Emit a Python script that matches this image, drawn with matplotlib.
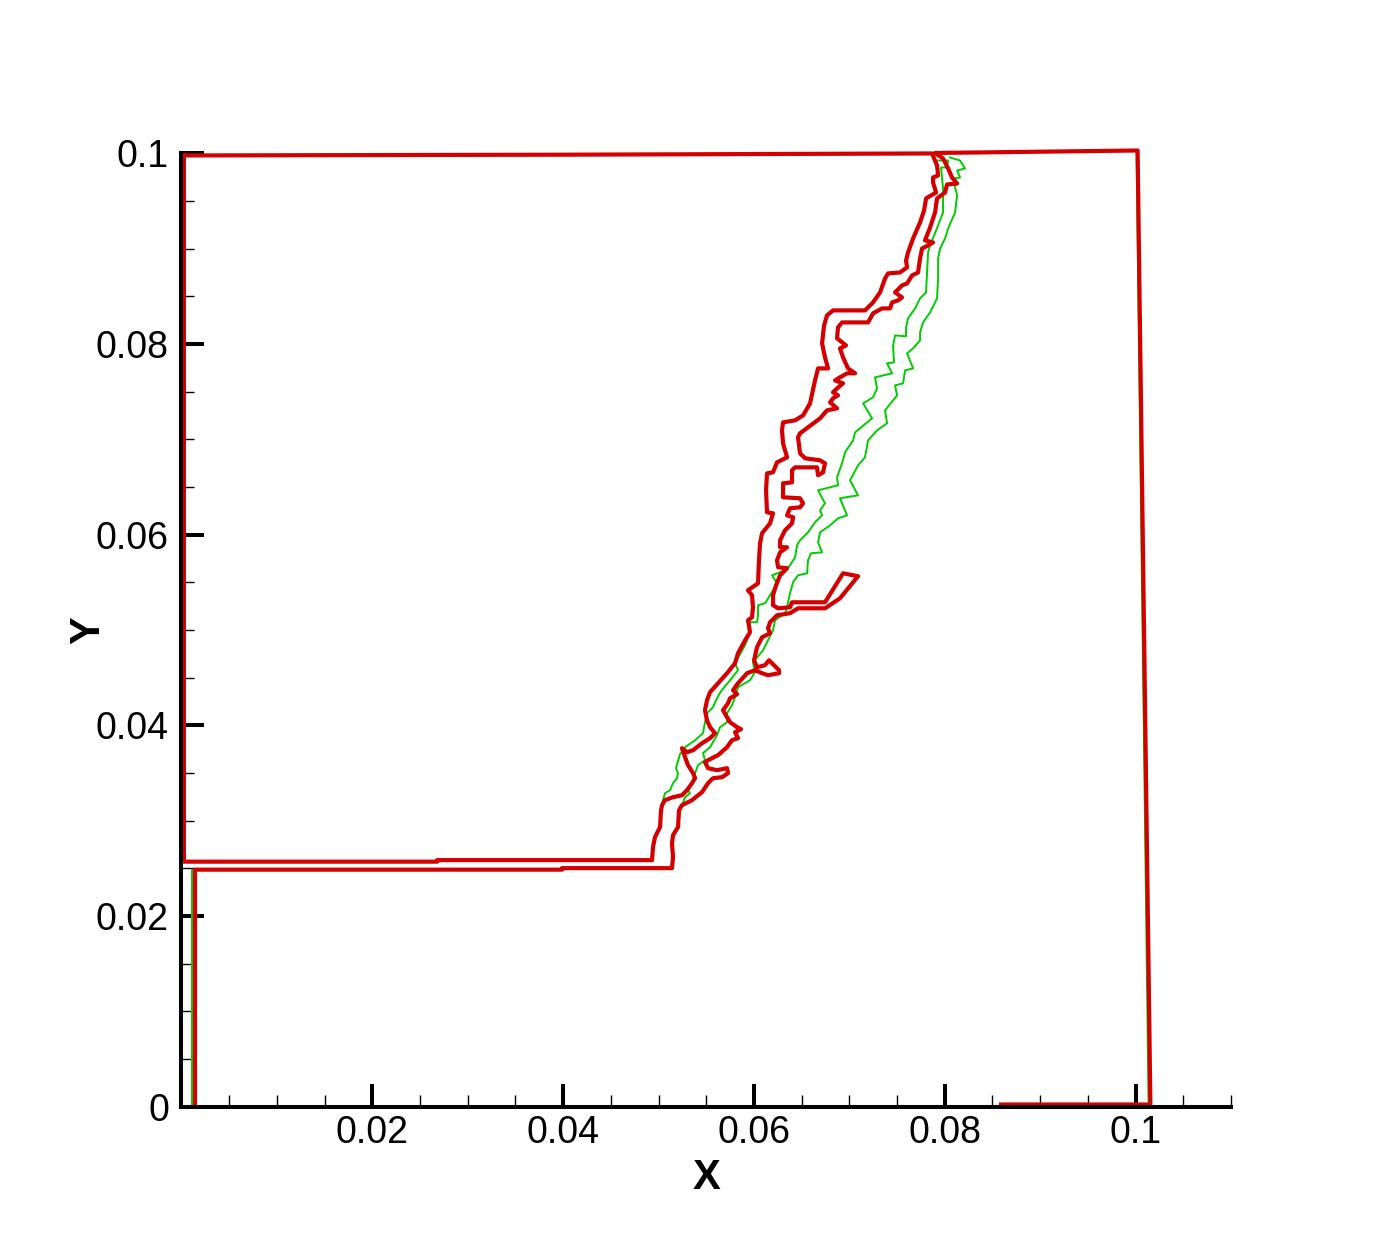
import numpy as np
import matplotlib.pyplot as plt
from matplotlib.ticker import MultipleLocator

plt.rcParams['font.family'] = ['Liberation Sans', 'DejaVu Sans']

# contour lines, all coordinates in mm

# upper red contour (left interface line + upper left block)
redUpperX = [0.26, 40.0, 78.67, 79.19, 79.30, 78.77, 78.77, 79.09, 78.04, 77.83, 77.41, 76.68,
             76.15, 75.94, 76.05, 75.31, 74.06, 73.74, 73.22, 72.48, 71.64, 68.29, 67.66, 67.35,
             67.14, 67.45, 67.77, 66.72, 66.40, 65.88, 65.15, 64.31, 63.05, 62.94, 63.05, 63.47,
             62.42, 62.00, 61.37, 61.27, 61.37, 62.00, 61.69, 60.85, 60.64, 60.53, 60.43, 59.38,
             59.80, 59.90, 59.80, 59.38, 59.59, 59.07, 58.33, 58.02, 57.18, 56.24, 55.40, 55.08,
             54.87, 55.08, 55.40, 55.92, 55.40, 54.56, 53.62, 52.99, 52.46, 52.78, 53.09, 53.62,
             53.83, 53.51, 52.99, 52.46, 51.52, 50.68, 50.37, 50.26, 50.16, 49.63, 49.42, 49.32,
             26.78, 26.78, 0.26, 0.26]
redUpperY = [99.77, 99.85, 99.98, 98.72, 97.67, 97.46, 96.94, 95.89, 95.26, 94.00, 92.75, 91.07,
             89.60, 88.76, 88.03, 87.50, 87.40, 86.87, 85.41, 84.36, 83.52, 83.52, 83.00, 81.95,
             80.06, 78.59, 77.44, 77.44, 76.18, 73.77, 72.51, 71.99, 71.78, 70.94, 69.58, 68.11,
             67.59, 66.54, 66.43, 64.65, 62.35, 62.24, 61.19, 60.15, 59.10, 57.32, 54.90, 54.17,
             53.65, 52.39, 51.34, 51.03, 49.77, 48.93, 47.57, 46.52, 45.47, 44.42, 43.48, 42.64,
             41.59, 40.54, 39.81, 39.18, 38.66, 38.13, 37.40, 37.19, 37.61, 36.67, 35.83, 34.99,
             34.46, 33.94, 33.21, 32.68, 32.47, 32.16, 31.63, 31.11, 29.33, 28.28, 27.23, 25.87,
             25.87, 25.71, 25.71, 99.77]

# lower red contour (bottom edge, right wall, top, right interface line, lower block)
redLowerX = [85.90, 101.55, 100.21, 78.98, 79.82, 80.35, 80.76, 81.29, 80.24, 80.03, 79.19, 78.98,
             78.46, 77.93, 78.77, 78.25, 77.62, 77.41, 77.20, 76.57, 76.05, 75.52, 74.79, 75.52,
             75.10, 74.48, 74.27, 73.43, 72.48, 71.96, 69.23, 68.81, 68.71, 69.65, 69.02, 69.34,
             69.86, 70.60, 69.76, 69.02, 68.50, 69.34, 68.71, 68.29, 68.81, 68.29, 67.98, 68.71,
             67.66, 66.93, 64.83, 64.62, 64.83, 65.36, 66.93, 67.45, 67.24, 66.72, 66.61, 64.31,
             63.99, 63.99, 63.05, 63.05, 64.83, 65.15, 64.83, 63.78, 63.47, 64.10, 63.99, 63.26,
             62.74, 62.74, 63.47, 62.74, 62.42, 62.53, 63.47, 62.74, 62.32, 62.00, 62.00, 62.53,
             63.78, 63.99, 67.45, 69.34, 70.91, 69.02, 67.45, 64.62, 63.78, 62.42, 61.69, 61.48,
             61.69, 60.85, 60.32, 60.01, 60.32, 61.16, 61.58, 62.63, 62.63, 61.48, 60.85, 60.11,
             59.28, 58.33, 57.81, 58.23, 57.50, 57.29, 56.76, 57.18, 57.50, 58.23, 58.65, 58.02,
             58.33, 57.70, 57.18, 56.24, 55.19, 54.87, 55.19, 56.13, 57.18, 57.29, 56.66, 55.71,
             55.19, 54.56, 53.51, 52.46, 52.15, 52.04, 51.52, 51.41, 51.52, 51.41, 39.88, 39.88,
             1.42, 1.42]
redLowerY = [0.24, 0.24, 100.29, 100.03, 99.45, 98.41, 97.46, 96.83, 96.73, 95.89, 95.26, 93.79,
             92.22, 90.86, 90.65, 90.33, 90.02, 88.97, 87.50, 87.19, 86.35, 86.14, 85.41, 84.88,
             84.57, 84.36, 83.73, 83.73, 83.21, 82.26, 82.26, 81.74, 80.59, 79.85, 79.54, 78.59,
             77.44, 76.92, 76.92, 76.50, 76.18, 75.87, 75.34, 74.93, 74.61, 74.30, 73.88, 73.25,
             73.04, 72.20, 70.63, 70.21, 68.53, 68.01, 67.80, 67.48, 66.54, 66.23, 67.06, 67.06,
             66.75, 65.49, 65.39, 63.92, 63.82, 63.29, 62.87, 62.77, 62.03, 61.82, 61.19, 60.46,
             59.41, 58.68, 58.68, 58.15, 57.32, 56.58, 56.48, 55.74, 54.69, 53.65, 52.60, 52.28,
             52.39, 52.91, 52.91, 55.95, 55.64, 53.33, 52.28, 52.28, 51.76, 51.55, 50.82, 50.19,
             49.66, 49.24, 48.20, 46.83, 46.10, 46.31, 46.83, 45.79, 45.47, 45.26, 45.47, 45.79,
             45.47, 44.42, 43.69, 43.27, 42.85, 42.33, 41.59, 40.86, 40.33, 39.81, 39.60, 39.29,
             38.66, 38.45, 37.71, 36.88, 36.35, 36.14, 35.51, 35.30, 35.51, 34.99, 34.57, 34.46,
             33.94, 33.00, 32.16, 31.63, 31.11, 29.33, 28.49, 27.65, 26.18, 25.03, 25.03, 24.87,
             24.87, 0.0]

# green contour, left interface line
greenLeftX = [79.30, 80.35, 80.24, 79.61, 79.72, 79.82, 79.82, 79.30, 78.46, 78.25, 78.14, 78.04,
              77.41, 76.89, 76.15, 75.94, 75.94, 74.79, 74.58, 74.68, 73.95, 74.48, 72.69, 72.90,
              72.48, 71.44, 72.38, 70.60, 70.39, 69.55, 69.23, 68.71, 68.81, 66.72, 67.45, 66.93,
              67.14, 66.40, 65.67, 64.83, 64.52, 64.31, 63.57, 62.74, 61.90, 62.42, 61.69, 61.16,
              60.43, 60.43, 60.32, 59.59, 59.59, 59.07, 58.02, 58.33, 57.50, 56.55, 56.13, 55.71,
              55.08, 54.87, 54.66, 53.83, 52.78, 52.25, 51.83, 52.04, 51.94, 51.52, 51.21, 50.68,
              50.47, 50.26]
greenLeftY = [99.24, 99.24, 98.51, 98.51, 97.36, 96.31, 93.79, 92.43, 90.33, 89.60, 87.50, 85.41,
              84.78, 83.73, 82.68, 81.74, 80.80, 80.90, 79.85, 78.07, 77.97, 76.92, 76.50, 75.34,
              74.40, 73.77, 72.20, 70.73, 69.89, 68.64, 67.48, 66.02, 65.18, 64.65, 63.29, 62.56,
              62.03, 61.30, 60.25, 59.41, 58.89, 57.63, 56.48, 56.06, 55.74, 54.90, 53.65, 52.81,
              52.60, 51.55, 50.82, 50.82, 49.77, 48.41, 46.52, 45.79, 44.74, 43.58, 42.85, 41.91,
              41.28, 40.33, 39.18, 38.45, 37.71, 36.98, 35.51, 34.99, 34.46, 33.94, 33.21, 32.89,
              32.16, 31.11]

# green contour, right interface line
greenRightX = [80.55, 81.60, 82.13, 81.29, 81.60, 81.08, 81.08, 81.29, 81.08, 80.35, 80.03, 79.51,
               79.30, 79.30, 79.19, 78.46, 77.72, 77.41, 77.41, 76.68, 76.05, 76.68, 75.84, 75.63,
               74.79, 75.00, 73.74, 73.95, 72.90, 71.96, 71.64, 70.91, 70.07, 70.91, 69.02, 69.76,
               68.81, 67.98, 66.93, 66.72, 67.14, 65.98, 65.67, 65.57, 64.62, 64.10, 63.78, 63.47,
               63.26, 62.21, 62.00, 60.95, 59.90, 60.11, 59.59, 58.33, 58.02, 57.70, 57.18, 57.18,
               56.45, 56.13, 55.40, 54.66, 54.87, 54.14, 53.83, 53.51, 53.09, 53.30, 52.78, 52.46]
greenRightY = [99.56, 99.24, 98.41, 98.19, 97.46, 97.36, 96.41, 95.58, 93.79, 92.12, 91.07, 90.02,
               88.97, 86.87, 84.78, 83.31, 82.26, 81.21, 80.38, 79.54, 79.01, 77.44, 77.23, 75.87,
               75.66, 74.61, 73.04, 71.68, 70.94, 69.89, 68.11, 67.27, 65.70, 64.13, 63.82, 62.03,
               61.72, 60.98, 60.25, 59.20, 58.15, 58.05, 57.32, 55.95, 55.74, 55.01, 53.86, 52.39,
               51.76, 51.03, 49.98, 47.88, 46.62, 45.58, 44.74, 44.00, 42.96, 42.12, 41.28, 40.33,
               39.81, 38.97, 37.71, 37.09, 36.35, 35.83, 34.99, 33.94, 33.21, 32.89, 32.47, 31.63]

# green walls mostly hidden under the red ones
greenWallLeftX = [1.10, 1.10]
greenWallLeftY = [24.84, 0.0]
greenWallRightX = [100.10, 101.36]
greenWallRightY = [99.98, 0.0]

xTicks = [0.02, 0.04, 0.06, 0.08, 0.1]
xTickLabels = ['0.02', '0.04', '0.06', '0.08', '0.1']
yTicks = [0, 0.02, 0.04, 0.06, 0.08, 0.1]
yTickLabels = ['0', '0.02', '0.04', '0.06', '0.08', '0.1']

red = '#d40000'
green = '#00cc00'
mm = 1e-3

fig = plt.figure(figsize=(14, 12.45), dpi=100)
ax = fig.add_axes([0.1296, 0.1110, 0.7497, 0.7659])

ax.plot(np.array(greenWallLeftX) * mm, np.array(greenWallLeftY) * mm, color=green, lw=1.4, zorder=2, clip_on=False)
ax.plot(np.array(greenWallRightX) * mm, np.array(greenWallRightY) * mm, color=green, lw=1.4, zorder=2, clip_on=False)
ax.plot(np.array(greenLeftX) * mm, np.array(greenLeftY) * mm, color=green, lw=1.4, zorder=2, clip_on=False)
ax.plot(np.array(greenRightX) * mm, np.array(greenRightY) * mm, color=green, lw=1.4, zorder=2, clip_on=False)
ax.plot(np.array(redUpperX) * mm, np.array(redUpperY) * mm, color=red, lw=3.0, zorder=3, clip_on=False)
ax.plot(np.array(redLowerX) * mm, np.array(redLowerY) * mm, color=red, lw=3.0, zorder=3, clip_on=False)

ax.set_xlim(0, 0.11)
ax.set_ylim(0, 0.1)

for side in ['top', 'right']:
    ax.spines[side].set_visible(False)
for side in ['left', 'bottom']:
    ax.spines[side].set_linewidth(2.9)
    ax.spines[side].set_zorder(4)

ax.set_xticks(xTicks)
ax.set_xticklabels(xTickLabels)
ax.set_yticks(yTicks)
ax.set_yticklabels(yTickLabels)
ax.xaxis.set_minor_locator(MultipleLocator(0.005))
ax.yaxis.set_minor_locator(MultipleLocator(0.005))

ax.tick_params(which='major', direction='in', length=16.5, width=2.9, labelsize=27)
ax.tick_params(which='minor', direction='in', length=9, width=1.0)
ax.tick_params(axis='x', which='major', pad=6)
ax.tick_params(axis='y', which='major', pad=9)

ax.set_xlabel('X', fontsize=30, fontweight='bold', labelpad=5)
ax.set_ylabel('Y', fontsize=30, fontweight='bold', labelpad=-9)

fig.savefig('out.png', dpi=100)
